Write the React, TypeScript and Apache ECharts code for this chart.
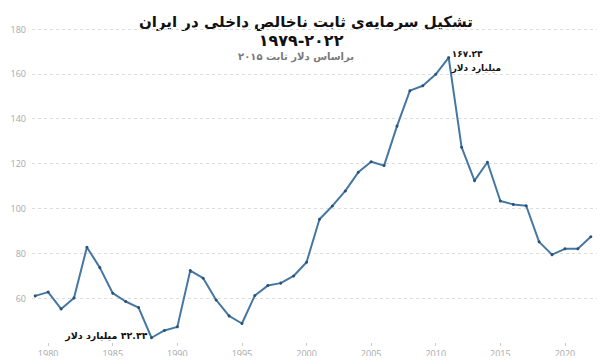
import React, { useEffect, useRef } from "react";
import * as echarts from "echarts";

const years: number[] = [
  1979, 1980, 1981, 1982, 1983, 1984, 1985, 1986, 1987, 1988, 1989, 1990, 1991, 1992, 1993,
  1994, 1995, 1996, 1997, 1998, 1999, 2000, 2001, 2002, 2003, 2004, 2005, 2006, 2007, 2008,
  2009, 2010, 2011, 2012, 2013, 2014, 2015, 2016, 2017, 2018, 2019, 2020, 2021, 2022,
];
const values: number[] = [
  61.0, 62.7, 55.2, 60.1, 82.7, 73.6, 62.2, 58.5, 55.8, 42.34, 45.6, 47.2, 72.3, 68.9, 59.2,
  52.1, 48.7, 61.2, 65.6, 66.7, 69.9, 76.0, 95.2, 101.1, 107.8, 116.1, 120.8, 119.1, 136.7, 152.5,
  154.7, 159.8, 167.23, 127.3, 112.4, 120.6, 103.3, 101.8, 101.2, 85.1, 79.4, 82.0, 82.0, 87.4,
];
const xTickLabels: number[] = [1980, 1985, 1990, 1995, 2000, 2005, 2010, 2015, 2020];

const titleLine1 = "تشکیل سرمایه‌ی ثابت ناخالص داخلی در ایران";
const titleLine2 = "۱۹۷۹-۲۰۲۲";
const subtitle = "براساس دلار ثابت ۲۰۱۵";
const maxLabel = ["۱۶۷.۲۳", "میلیارد دلار"];
const minLabel = "\u200F۴۲.۳۴ میلیارد دلار";

const faFont = "'DejaVu Sans', sans-serif";

export default function App() {
  const ref = useRef<HTMLDivElement>(null);
  useEffect(() => {
    if (!ref.current) return;
    const chart = echarts.init(ref.current, undefined, { renderer: "svg" });
    const data = years.map((y, i) => [y, values[i]]);
    const maxIdx = values.indexOf(Math.max(...values));
    const minIdx = values.indexOf(Math.min(...values));
    chart.setOption({
      animation: false,
      backgroundColor: "#ffffff",
      grid: { left: 32, right: 0, top: 29, bottom: 21 },
      graphic: [
        { type: "rect", shape: { x: 0, y: 1, width: 52, height: 2 }, style: { fill: "#2f5f8c" } },
        { type: "line", shape: { x1: 52, y1: 2, x2: 605, y2: 2 }, style: { stroke: "#e2e2e2", lineWidth: 1 } },
        {
          type: "text",
          x: 306,
          y: 22,
          style: {
            text: titleLine1,
            font: `bold 15px ${faFont}`,
            fill: "#111",
            textAlign: "center",
            textVerticalAlign: "middle",
          },
        },
        {
          type: "text",
          x: 301,
          y: 40,
          style: {
            text: titleLine2,
            font: `bold 16px ${faFont}`,
            fill: "#111",
            textAlign: "center",
            textVerticalAlign: "middle",
          },
        },
        {
          type: "text",
          x: 296,
          y: 56,
          style: {
            text: subtitle,
            font: `bold 10px ${faFont}`,
            fill: "#7a7a7a",
            textAlign: "center",
            textVerticalAlign: "middle",
          },
        },
      ],
      xAxis: {
        type: "value",
        min: 1978.75,
        max: 2023.1,
        axisLine: { show: false },
        splitLine: { show: false },
        axisTick: {
          show: true,
          customValues: xTickLabels,
          length: 3,
          lineStyle: { color: "#cccccc" },
        },
        axisLabel: {
          customValues: xTickLabels,
          color: "#a8a8a8",
          fontSize: 9,
          fontFamily: "'Open Sans', sans-serif",
          margin: 6,
          formatter: (v: number) => String(v),
        },
      },
      yAxis: {
        type: "value",
        min: 40,
        max: 180,
        interval: 20,
        axisLine: { show: false },
        axisTick: { show: false },
        axisLabel: {
          color: "#a8a8a8",
          fontSize: 9,
          fontFamily: "'Open Sans', sans-serif",
          margin: 6,
          showMinLabel: false,
        },
        splitLine: {
          show: true,
          showMinLine: false,
          lineStyle: { color: "#dcdcdc", type: [3, 3], width: 1 },
        },
      },
      series: [
        {
          type: "line",
          data,
          symbol: "circle",
          symbolSize: 3,
          showSymbol: true,
          itemStyle: { color: "#2a5178" },
          lineStyle: { color: "#4677a3", width: 2 },
          markPoint: {
            symbol: "circle",
            symbolSize: 0,
            data: [
              {
                coord: data[maxIdx],
                label: {
                  show: true,
                  position: "right",
                  distance: 3,
                  offset: [0, 3],
                  formatter: maxLabel.join("\n"),
                  align: "left",
                  fontFamily: faFont,
                  fontWeight: "bold",
                  fontSize: 9,
                  lineHeight: 14,
                  color: "#111",
                },
              },
              {
                coord: data[minIdx],
                label: {
                  show: true,
                  position: "left",
                  distance: 4,
                  offset: [0, -2],
                  formatter: minLabel,
                  fontFamily: faFont,
                  fontWeight: "bold",
                  fontSize: 9.5,
                  color: "#111",
                },
              },
            ],
          },
        },
      ],
    });
    return () => chart.dispose();
  }, []);
  return <div ref={ref} style={{ width: 605, height: 364, margin: -8 }} />;
}
